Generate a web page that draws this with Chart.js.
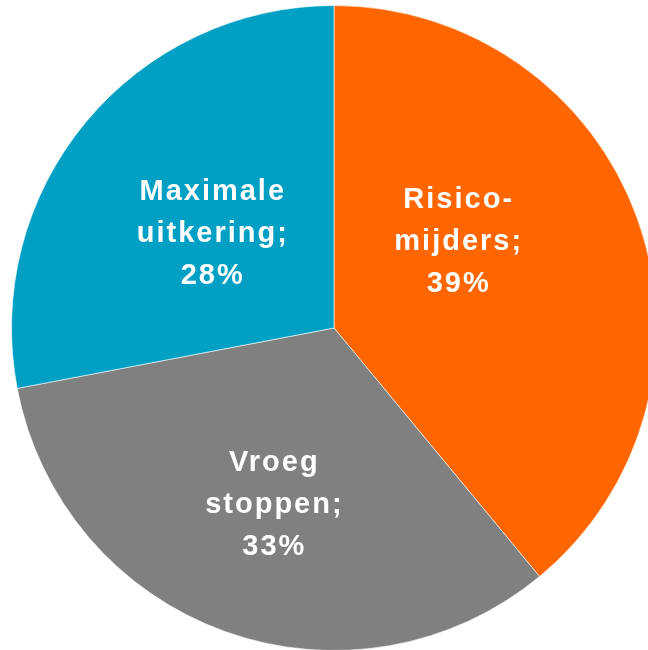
<!DOCTYPE html>
<html>
<head>
<meta charset="utf-8">
<script src="https://cdn.jsdelivr.net/npm/chart.js@4"></script>
<style>
  html, body { margin: 0; padding: 0; background: #fff; overflow: hidden; }
  #wrap { position: absolute; left: 0; top: 0; width: 668px; height: 656px; }
</style>
</head>
<body>
<div id="wrap"><canvas id="pieChart" width="668" height="656"></canvas></div>
<script>
const categories = ['Risico-mijders', 'Vroeg stoppen', 'Maximale uitkering']
const labelLines = [['Risico-', 'mijders;'], ['Vroeg', 'stoppen;'], ['Maximale', 'uitkering;']]
const values = [39, 33, 28]
const colors = ['#FF6600', '#808080', '#009FC4']

// label nudges relative to the slice midpoint (Excel moved the first one)
const labelNudge = [[-27, -31], [-5, 25], [3, 9]]

const sliceLabels = {
  id: 'sliceLabels',
  afterDatasetsDraw(chart) {
    const ctx = chart.ctx
    const meta = chart.getDatasetMeta(0)
    ctx.save()
    ctx.fillStyle = '#fff'
    ctx.font = 'bold 29px "Liberation Sans", Arial, sans-serif'
    ctx.letterSpacing = '2px'
    ctx.textAlign = 'center'
    ctx.textBaseline = 'middle'
    meta.data.forEach(function (arc, i) {
      const p = arc.getProps(['x', 'y', 'startAngle', 'endAngle', 'outerRadius'], true)
      const mid = (p.startAngle + p.endAngle) / 2
      const r = p.outerRadius * 0.5
      const cx = p.x + Math.cos(mid) * r + labelNudge[i][0]
      const cy = p.y + Math.sin(mid) * r + labelNudge[i][1]
      const lines = labelLines[i].concat([values[i] + '%'])
      const lh = 42
      lines.forEach(function (t, k) {
        ctx.fillText(t, cx, cy + (k - (lines.length - 1) / 2) * lh)
      })
    })
    ctx.restore()
  }
}

new Chart(document.getElementById('pieChart').getContext('2d'), {
  type: 'pie',
  data: {
    labels: categories,
    datasets: [{
      data: values,
      backgroundColor: colors,
      borderColor: 'rgba(255,255,255,0.6)',
      borderWidth: 1
    }]
  },
  options: {
    responsive: false,
    animation: false,
    layout: { padding: { top: 5, left: 11, right: 11, bottom: 5 } },
    plugins: {
      legend: { display: false },
      tooltip: { enabled: false }
    }
  },
  plugins: [sliceLabels]
})
</script>
</body>
</html>
